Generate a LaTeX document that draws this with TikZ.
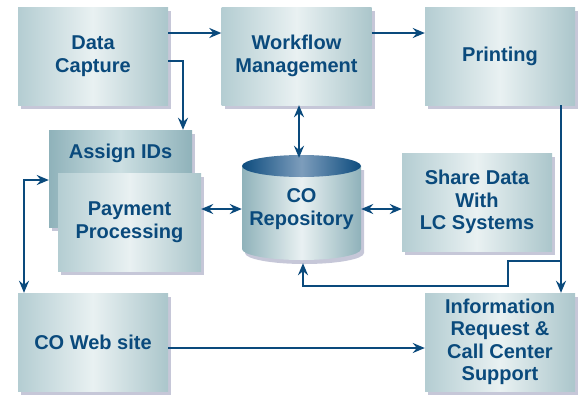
\documentclass[tikz,border=0pt]{standalone}
\usepackage{fontspec}
\setmainfont{Liberation Sans}
\usetikzlibrary{arrows.meta,shadows}
\definecolor{ink}{HTML}{0A4A7C}
\definecolor{boxedge}{HTML}{B4CDD2}
\definecolor{boxright}{HTML}{ABC6CB}
\definecolor{boxmid}{HTML}{E9F1F2}
\definecolor{idedge}{HTML}{8FB2BA}
\definecolor{idmid}{HTML}{CCDFE2}
\definecolor{shadowc}{HTML}{8E90B2}
\definecolor{captop}{HTML}{0D4C7E}
\definecolor{capmid}{HTML}{7D9DBC}
\newcommand{\linkwidth}{2pt}
\newcommand{\boxfont}{\fontsize{20}{22.5}\selectfont\bfseries}

\tikzset{
  box/.style={rectangle, inner sep=0pt, minimum width=150pt, minimum height=98pt,
    left color=boxedge, right color=boxright, middle color=boxmid,
    drop shadow={shadow xshift=3pt, shadow yshift=-4pt, fill=shadowc, opacity=0.5},
    font=\boxfont, text=ink, align=center},
  idbox/.style={left color=idedge, right color=idedge, middle color=idmid},
  cyltext/.style={inner sep=0pt, minimum width=119pt, minimum height=105pt,
    font=\boxfont, text=ink, align=center},
  link/.style={draw=ink, line width=\linkwidth, ->},
  >={Stealth[length=12pt,width=10pt,inset=4pt]}
}

\begin{document}
\begin{tikzpicture}[x=1pt,y=-1pt]
\useasboundingbox (0,0) rectangle (586,397);
% boxes
\node[box] (capture) at (93,56) {Data\\Capture};
\node[box] (workflow) at (296.5,56) {Workflow\\Management};
\node[box] (printing) at (500,56) {Printing};
\node[box, idbox, minimum width=143pt, minimum height=97pt, text height=15pt, text depth=56pt] (assign) at (120.5,178.5) {Assign IDs};
\node[box, minimum width=143pt] (payment) at (129.5,222) {Payment\\Processing};
\node[box] (share) at (477,202) {Share Data\\With\\LC Systems};
\node[box] (web) at (93,342) {CO Web site};
\node[box] (info) at (500,342) {Information\\Request \&\\Call Center\\Support};
% repository
\shade[left color=idedge, right color=idedge, middle color=boxmid,
  drop shadow={shadow xshift=3pt, shadow yshift=-4pt, fill=shadowc, opacity=0.5}]
  (242,166) -- (242,249) arc[start angle=180, end angle=360, x radius=59.5pt, y radius=11pt]
  -- (361,166) -- cycle;
\shade[left color=captop, right color=captop, middle color=capmid] (301.5,166) ellipse [x radius=59.5pt, y radius=11pt];
\node[cyltext] (repo) at (301.5,209) {CO\\Repository};
% links
\coordinate (split) at (561,261);
\coordinate (turn) at (24,180);
\draw[link] ([yshift=23pt]capture.east) -- ([yshift=23pt]workflow.west);
\draw[link] ([yshift=-5pt]capture.east) -| ([xshift=62.5pt]assign.north);
\draw[link] ([yshift=23pt]workflow.east) -- ([yshift=23pt]printing.west);
\draw[link,<->] ([xshift=2.5pt]workflow.south) -- ([xshift=-2.5pt,yshift=-1.5pt]repo.north);
\draw[link] ([xshift=61pt]printing.south) -- ([xshift=61pt]info.north);
\draw[link] (split) -- ++(-53,0) -- ++(0,25) -| ([xshift=1.5pt,yshift=-1.5pt]repo.south);
\draw[link,<->] (payment.east |- repo.west) -- (repo.west);
\draw[link,<->] (repo.east) -- (share.west |- repo.east);
\draw[link,<->] (assign.west |- turn) -- (turn) -- (web.north -| turn);
\draw[link] ([yshift=-6pt]web.east) -- ([yshift=-6pt]info.west);
\end{tikzpicture}
\end{document}
